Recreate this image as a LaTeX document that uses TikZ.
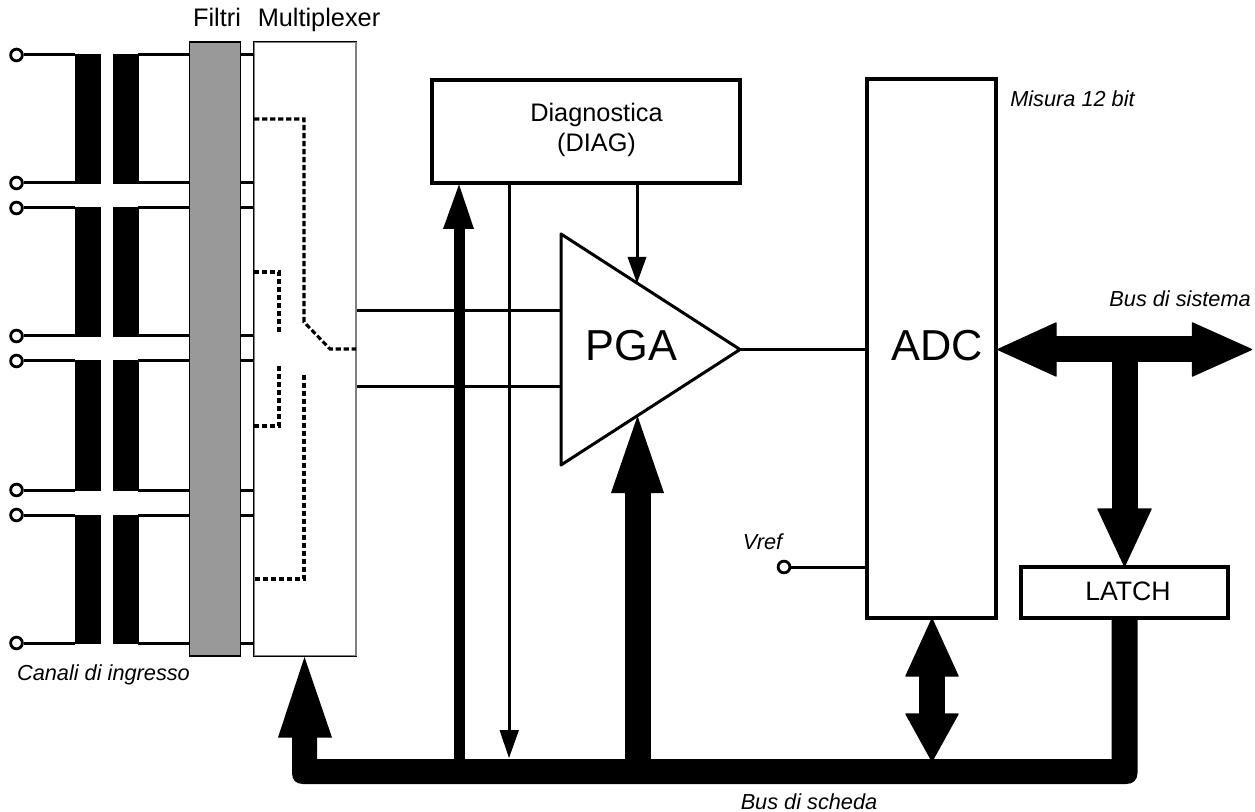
\documentclass[tikz,border=0pt]{standalone}
\usepackage{fontspec}
\setmainfont{Liberation Sans}
\definecolor{filt}{HTML}{999999}
\tikzset{
  x=0.75pt,y=-0.75pt,
  wire/.style={line width=2.25pt,draw=black},
  boxb/.style={draw=black,line width=2.6pt,fill=white,inner sep=0pt},
  term/.style={circle,draw=black,line width=2.1pt,fill=white,inner sep=0pt,minimum size=8.8pt},
  dsh/.style={draw=black,line width=2.3pt,dash pattern=on 4pt off 2pt},
  head/.style={fill=black,draw=black,line width=1pt,line join=round},
  shead/.style={fill=black,draw=none},
  lbl/.style={font=\fontsize{19pt}{23pt}\selectfont,inner sep=0pt,align=center},
  ital/.style={font=\itshape\fontsize{16.3pt}{19pt}\selectfont,inner sep=0pt},
  big/.style={font=\fontsize{32.5pt}{36pt}\selectfont,inner sep=0pt},
}
\begin{document}
\begin{tikzpicture}
\useasboundingbox (0,0) rectangle (1255,812);
% filter and mux
\node[draw=black,line width=1.1pt,fill=filt,minimum width=38.25pt,minimum height=460.5pt,inner sep=0pt] (filt) at (215,349) {};
\node[draw=black!50,line width=1.1pt,fill=white,minimum width=76.5pt,minimum height=460.5pt,inner sep=0pt] (mux) at (305,349) {};
\draw[black,line width=1.1pt] (mux.north east) -- (mux.north west) -- (mux.south west) -- (mux.south east);
\node[lbl,anchor=base] (lf) at (217,27) {Filtri};
\node[lbl,anchor=base] (lm) at (319,27) {Multiplexer};
% input channels
\foreach \n/\yy in {a/55,b/183,c/208,d/336,e/361,f/490,g/515,h/643}{
  \node[term] (t\n) at (16.5,\yy) {};
  \coordinate (l\n) at (75,\yy);
  \coordinate (r\n) at (138,\yy);
  \draw[wire] (t\n) -- (l\n);
  \draw[wire] (r\n) -- (filt.west |- r\n);
  \draw[wire] (filt.east |- r\n) -- (mux.west |- r\n);
}
\foreach \ya/\yb in {54/184,207.5/337,360.5/491,514.5/644}{
  \fill (74.5,\ya) rectangle (100.5,\yb);
  \fill (112.5,\ya) rectangle (139,\yb);
}
% mux switch
\draw[dsh] (254,119) -- (304,119) -- (304,322) -- (330,349) -- (356,349);
\draw[dsh] (254,272) -- (279,272) -- (279,333);
\draw[dsh] (279,366) -- (279,426) -- (254,426);
\draw[dsh] (304,375) -- (304,579) -- (254,579);
% diag
\node[boxb,minimum width=231pt,minimum height=77pt] (diag) at (586,131.5) {};
\node[lbl] (diagt) at (596.5,130) {Diagnostica\\(DIAG)};
% mux to pga
\coordinate (in1) at (561,311); \coordinate (in2) at (561,387);
\draw[wire] (mux.east |- in1) -- (in1);
\draw[wire] (mux.east |- in2) -- (in2);
% pga
\coordinate (p1) at (561,234); \coordinate (p2) at (561,465); \coordinate (p3) at (740,349.5);
\draw[wire,fill=white,line join=round] (p1) -- (p3) -- (p2) -- cycle;
\node[big,anchor=base] (pgat) at (631.5,361) {PGA};
% adc
\node[boxb,minimum width=96.75pt,minimum height=404.25pt] (adc) at (931.5,348.5) {};
\node[big,anchor=base] (adct) at (937,361) {ADC};
\draw[wire] (p3) -- (adc.west |- p3);
\node[term] (vr) at (784,567) {};
\draw[wire] (vr) -- (adc.west |- vr);
\node[ital,anchor=base] (vrl) at (762.5,549) {Vref};
\node[ital,anchor=base west] (ml) at (1010,107) {Misura 12 bit};
% latch
\node[boxb,minimum width=155.25pt,minimum height=38.25pt] (latch) at (1124.5,592.5) {};
\node[lbl,anchor=base,font=\fontsize{20pt}{23pt}\selectfont] (latcht) at (1128,600.5) {LATCH};
% board bus
\fill (292,730) -- (317,730) -- (317,759) -- (1111.5,759) -- (1111.5,620) -- (1137.5,620) -- (1137.5,773) .. controls (1137.5,780) and (1133,784) .. (1126,784) -- (303,784) .. controls (296,784) and (292,780) .. (292,773) -- cycle;
\fill[shead] (304.5,657) -- (332,737.5) -- (278,737.5) -- cycle;
% diag feed
\fill (453.5,228) rectangle (464.5,760);
\fill[shead] (459,184.5) -- (474,229) -- (443,229) -- cycle;
\draw[wire] (diag.south -| 509,0) -- (509,732);
\fill[shead] (509,758) -- (519,730) -- (499.5,730) -- cycle;
% diag to pga
\draw[wire] (diag.south -| 637,0) -- (637,260);
\fill[shead] (637,283) -- (646.5,257) -- (627.5,257) -- cycle;
% pga feed
\fill (625,490) rectangle (651,760);
\fill[shead] (637.5,416) -- (664,493) -- (611,493) -- cycle;
% system bus
\fill (1055,336) rectangle (1194,362);
\filldraw[head] (998,349.5) -- (1056,323) -- (1056,376) -- cycle;
\filldraw[head] (1251.5,349.5) -- (1192.5,323) -- (1192.5,376) -- cycle;
\fill (1111.5,360) rectangle (1137.5,510);
\filldraw[head] (1124.5,566) -- (1098,509) -- (1151,509) -- cycle;
% adc-bus
\fill (919,674) rectangle (945,716);
\filldraw[head] (932,619) -- (906,676) -- (958,676) -- cycle;
\filldraw[head] (932,761) -- (906,714) -- (958,714) -- cycle;
% labels
\node[ital,anchor=base] (li) at (103.5,680) {Canali di ingresso};
\node[ital,anchor=base] (lb) at (809,809) {Bus di scheda};
\node[ital,anchor=base east] (ls) at (1251,307) {Bus di sistema};
\end{tikzpicture}
\end{document}
